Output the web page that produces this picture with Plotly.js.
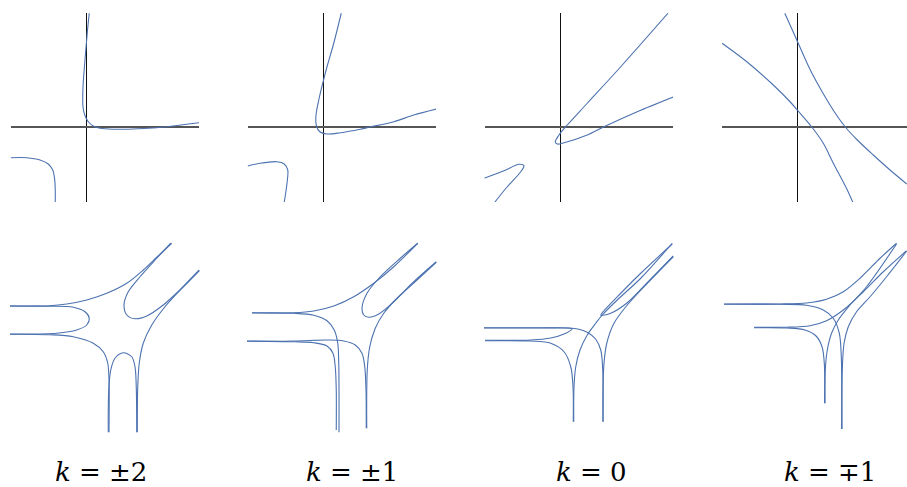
<!DOCTYPE html>
<html>
<head>
<meta charset="utf-8">
<script src="https://cdn.plot.ly/plotly-3.0.1.min.js"></script>
<style>
  html, body { margin: 0; padding: 0; background: #fff; }
  #chart { width: 907px; height: 487px; }
</style>
</head>
<body>
<div id="chart"></div>
<script>
// ---- data: curve points [x, y] ----

// top row: the curves in the plane (axes through the origin)
const topA1 = [[0.13,4.55],[0.05,3.76],[-0.04,2.68],[-0.12,1.6],[-0.12,0.8],[-0.05,0.48],[0.09,0.21],[0.29,0.04],[0.56,-0.05],[1.08,-0.09],[1.88,-0.08],[2.68,-0.04],[3.48,0.04],[4.52,0.17]];
const topB1 = [[-3.01,-1.23],[-2.37,-1.23],[-1.84,-1.32],[-1.51,-1.48],[-1.33,-1.72],[-1.25,-2.12],[-1.23,-2.52],[-1.23,-3.01]];

const topA2 = [[0.73,4.55],[0.43,3.35],[0.16,2.41],[-0.01,1.75],[-0.17,1.08],[-0.28,0.48],[-0.27,0.08],[-0.13,-0.19],[0.16,-0.28],[0.69,-0.23],[1.49,-0.09],[1.89,0],[2.83,0.21],[3.63,0.48],[4.53,0.72]];
const topB2 = [[-3.01,-1.56],[-2.51,-1.45],[-1.84,-1.39],[-1.55,-1.48],[-1.41,-1.72],[-1.44,-2.25],[-1.55,-3.01]];

const topA3 = [[4.32,4.55],[2.43,2.41],[1.09,0.95],[0.29,0.08],[-0.04,-0.32],[-0.19,-0.59],[-0.11,-0.68],[0.16,-0.63],[1.09,-0.32],[1.76,0.01],[3.09,0.61],[4.56,1.21]];
const topB3 = [[-3.04,-2.05],[-2.24,-1.75],[-1.64,-1.49],[-1.44,-1.55],[-1.57,-1.79],[-2.11,-2.39],[-2.61,-3.01]];

const topA4 = [[-0.5,4.55],[-0.02,3.48],[0.51,2.3],[1.04,1.33],[1.5,0.58],[1.92,0],[2.4,-0.52],[3.04,-1.12],[3.71,-1.72],[4.38,-2.28]];
const topB4 = [[-3.01,3.35],[-2.02,2.61],[-0.96,1.68],[-0.29,1.01],[0,0.68],[0.58,0],[1.04,-0.65],[1.44,-1.45],[2.0,-2.52],[2.22,-3.01]];

// bottom row: the log-plane pictures, k = ±2
const bot1a = [[-3.04,1.25],[-1.44,1.25],[-0.77,1.32],[0.03,1.48],[0.83,1.75],[1.63,2.15],[2.29,2.68],[2.83,3.19],[3.43,3.75]];
const bot1b = [[-3.04,1.23],[-1.44,1.23],[-0.51,1.19],[-0.04,1.01],[0.13,0.75],[0.03,0.48],[-0.37,0.28],[-1.17,0.15],[-3.04,0.12]];
const bot1c = [[-3.04,0.11],[-1.44,0.09],[-0.51,0.01],[0.29,-0.25],[0.69,-0.59],[0.87,-1.05],[0.92,-1.72],[0.92,-3.81]];
const bot1d = [[0.89,-3.81],[0.91,-2.12],[0.99,-1.32],[1.16,-0.85],[1.49,-0.63],[1.83,-0.79],[1.96,-1.19],[2.01,-1.99],[2.03,-3.81]];
const bot1e = [[2.05,-3.81],[2.07,-1.99],[2.13,-1.05],[2.29,-0.25],[2.63,0.48],[3.16,1.21],[3.89,2.01],[4.53,2.68]];
const bot1f = [[3.39,3.75],[2.83,3.15],[2.16,2.41],[1.69,1.81],[1.52,1.28],[1.63,0.88],[1.96,0.73],[2.43,0.84],[3.09,1.28],[3.83,1.95],[4.53,2.65]];

// k = ±1
const bot2a = [[-2.84,0.97],[-1.17,0.97],[-0.37,1.04],[0.43,1.24],[1.23,1.61],[2.03,2.15],[2.83,2.81],[3.79,3.75]];
const bot2b = [[-2.84,0.96],[-1.17,0.95],[-0.37,0.87],[0.16,0.65],[0.45,0.28],[0.59,-0.25],[0.63,-1.05],[0.64,-3.81]];
const bot2c = [[-3.04,-0.16],[-1.17,-0.19],[-0.37,-0.23],[0.16,-0.36],[0.40,-0.65],[0.49,-1.19],[0.53,-2.12],[0.53,-3.72]];
const bot2d = [[-3.04,-0.17],[-1.17,-0.16],[0.16,-0.12],[0.83,-0.16],[1.29,-0.32],[1.56,-0.65],[1.67,-1.19],[1.72,-2.12],[1.73,-3.65]];
const bot2e = [[3.79,3.75],[3.09,3.15],[2.29,2.41],[1.76,1.75],[1.56,1.15],[1.63,0.88],[1.83,0.79],[2.23,0.92],[2.83,1.41],[3.63,2.21],[4.53,3.01]];
const bot2f = [[4.53,2.99],[3.76,2.28],[2.96,1.55],[2.43,0.95],[2.09,0.35],[1.87,-0.39],[1.77,-1.32],[1.75,-3.65]];

// k = 0
const bot3a = [[-3.04,0.37],[-0.91,0.37],[0.16,0.36],[0.49,0.35],[0.76,0.31],[1.09,0.19],[1.43,-0.09],[1.63,-0.52],[1.71,-1.32],[1.72,-3.39]];
const bot3b = [[-3.04,0.36],[-0.91,0.36],[0.49,0.33],[0.16,0.12],[-0.37,-0.04],[-1.17,-0.12],[-3.0,-0.13]];
const bot3c = [[-3.0,-0.15],[-1.17,-0.16],[-0.37,-0.25],[0.16,-0.59],[0.43,-1.19],[0.52,-1.99],[0.53,-3.39]];
const bot3d = [[0.55,-3.39],[0.56,-1.99],[0.63,-1.19],[0.8,-0.52],[1.09,0.08],[1.43,0.55],[1.69,0.88],[2.29,1.48],[3.23,2.35],[4.49,3.75]];
const bot3e = [[4.49,3.72],[3.23,2.55],[2.43,1.75],[1.69,0.97],[1.63,0.87],[2.03,0.95],[2.69,1.37],[3.49,2.17],[4.53,3.24]];
const bot3f = [[4.53,3.21],[3.49,2.15],[2.69,1.28],[2.16,0.55],[1.87,-0.25],[1.76,-1.05],[1.72,-2.12],[1.72,-3.39]];

// k = ∓1
const bot4a = [[-2.93,1.32],[-0.69,1.32],[0.37,1.36],[1.17,1.51],[1.84,1.81],[2.57,2.41],[3.31,3.15],[3.97,3.75]];
const bot4b = [[-2.93,1.31],[-0.69,1.31],[0.37,1.27],[1.04,1.08],[1.44,0.75],[1.68,0.15],[1.76,-0.79],[1.77,-3.68]];
const bot4c = [[-1.73,0.39],[-0.43,0.39],[0.51,0.45],[1.17,0.65],[1.84,1.08],[2.64,1.81],[3.44,2.61],[4.37,3.45]];
const bot4d = [[-1.73,0.37],[-0.43,0.36],[0.31,0.28],[0.75,0.04],[0.99,-0.39],[1.08,-1.05],[1.09,-2.65]];
const bot4e = [[1.11,-2.65],[1.12,-1.32],[1.2,-0.52],[1.37,0.15],[1.64,0.68],[2.11,1.28],[2.77,2.01],[3.97,3.72]];
const bot4f = [[1.79,-3.68],[1.8,-1.32],[1.87,-0.25],[2.04,0.41],[2.37,1.01],[2.91,1.61],[3.57,2.41],[4.37,3.43]];

const labels = ['<i>k</i> = ±2', '<i>k</i> = ±1', '<i>k</i> = 0', '<i>k</i> = ∓1'];

// ---- layout helpers ----
const W = 907, H = 487;
const UNIT = 25;                       // pixels per data unit
const colOrigin = [86, 323, 560, 797.3];
const labelX = [101, 352, 591, 830];
const lineColor = '#4c72b0';

const panels = [
  { curves: [topA1, topB1], row: 0, col: 0 },
  { curves: [topA2, topB2], row: 0, col: 1 },
  { curves: [topA3, topB3], row: 0, col: 2 },
  { curves: [topA4, topB4], row: 0, col: 3 },
  { curves: [bot1a, bot1b, bot1c, bot1d, bot1e, bot1f], row: 1, col: 0 },
  { curves: [bot2a, bot2b, bot2c, bot2d, bot2e, bot2f], row: 1, col: 1 },
  { curves: [bot3a, bot3b, bot3c, bot3d, bot3e, bot3f], row: 1, col: 2 },
  { curves: [bot4a, bot4b, bot4c, bot4d, bot4e, bot4f], row: 1, col: 3 }
];

const traces = [];
const layout = {
  width: W,
  height: H,
  margin: { l: 0, r: 0, t: 0, b: 0 },
  paper_bgcolor: '#fff',
  plot_bgcolor: 'rgba(0,0,0,0)',
  showlegend: false,
  font: { family: 'DejaVu Serif', size: 26, color: '#000' },
  annotations: []
};

panels.forEach((p, i) => {
  const n = i + 1;
  const ax = n === 1 ? '' : String(n);
  const ox = colOrigin[p.col];
  const top = p.row === 0;

  // pixel box of the panel
  const left = top ? ox - 75.5 : ox - 80;
  const right = Math.min(top ? ox + 113 : ox + 118, W);
  const oy = top ? 127 : 337;
  const yTop = top ? 13 : 236;
  const yBot = top ? 202 : 438;

  layout['xaxis' + ax] = {
    domain: [left / W, right / W],
    range: [(left - ox) / UNIT, (right - ox) / UNIT],
    anchor: 'y' + ax,
    showgrid: false, showticklabels: false, ticks: '', showline: false,
    zeroline: top, zerolinecolor: '#111', zerolinewidth: 1,
    fixedrange: true
  };
  layout['yaxis' + ax] = {
    domain: [1 - yBot / H, 1 - yTop / H],
    range: [(oy - yBot) / UNIT, (oy - yTop) / UNIT],
    anchor: 'x' + ax,
    showgrid: false, showticklabels: false, ticks: '', showline: false,
    zeroline: top, zerolinecolor: '#555', zerolinewidth: 1.6,
    fixedrange: true
  };

  p.curves.forEach(c => {
    traces.push({
      x: c.map(d => d[0]),
      y: c.map(d => d[1]),
      xaxis: 'x' + ax,
      yaxis: 'y' + ax,
      type: 'scatter',
      mode: 'lines',
      line: { color: lineColor, width: 1.1, shape: 'spline', smoothing: 0.9 },
      hoverinfo: 'skip'
    });
  });
});

labels.forEach((t, i) => {
  layout.annotations.push({
    text: t,
    xref: 'paper', yref: 'paper',
    x: labelX[i] / W, y: 1 - 472 / H,
    xanchor: 'center', yanchor: 'middle',
    showarrow: false,
    font: { family: 'DejaVu Serif', size: 26, color: '#000' }
  });
});

Plotly.newPlot('chart', traces, layout, { displayModeBar: false, staticPlot: true });
</script>
</body>
</html>
